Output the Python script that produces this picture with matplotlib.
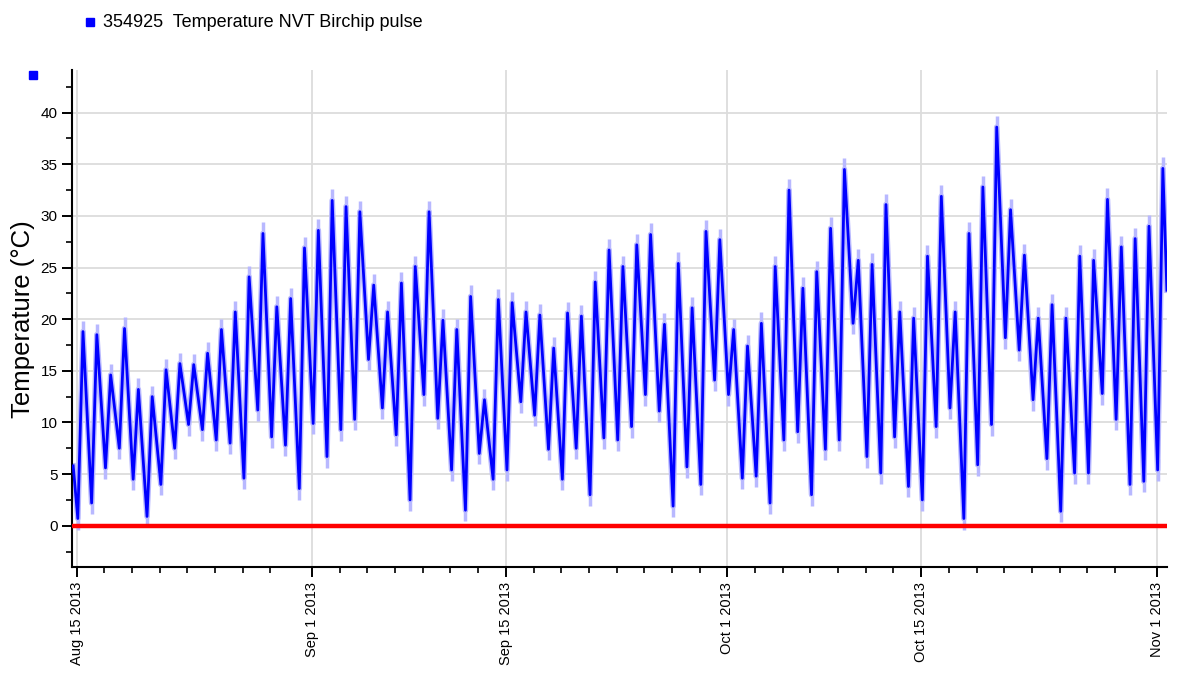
import numpy as np
import matplotlib.pyplot as plt
import matplotlib.dates as mdates
from matplotlib.ticker import MultipleLocator
from matplotlib.lines import Line2D

plt.rcParams['font.family'] = ['Liberation Sans', 'DejaVu Sans']

series_label = "354925  Temperature NVT Birchip pulse"
first_day = np.datetime64('2013-08-15')

# early-morning lows, one per day, Aug 15 .. Nov 1 2013
daily_min = [0.7, 2.2, 5.6, 7.5, 4.5, 0.9, 4.0, 7.5, 9.8, 9.3, 8.3, 8.0, 4.6,
             11.2, 8.6, 7.8, 3.6, 9.9, 6.7, 9.3, 10.3, 16.1, 11.4, 8.8, 2.5, 12.7,
             10.4, 5.4, 1.5, 7.0, 4.5, 5.4, 12.0, 10.7, 7.4, 4.5, 7.5, 3.0, 8.5,
             8.3, 9.6, 12.7, 11.1, 1.9, 5.7, 4.0, 14.1, 12.7, 4.6, 4.8, 2.2, 8.3,
             9.1, 3.0, 7.4, 8.3, 19.6, 6.7, 5.1, 8.6, 3.8, 2.5, 9.6, 11.4, 0.7,
             5.9, 9.8, 18.2, 17.0, 12.2, 6.5, 1.4, 5.1, 5.1, 12.8, 10.3, 4.0, 4.3, 5.4]
# daily highs
daily_max = [18.8, 18.5, 14.6, 19.1, 13.2, 12.5, 15.1, 15.7, 15.6, 16.7, 19.0, 20.7, 24.1,
             28.3, 21.2, 22.0, 26.9, 28.6, 31.5, 30.9, 30.4, 23.3, 20.7, 23.5, 25.1, 30.4,
             19.9, 19.0, 22.2, 12.2, 21.9, 21.6, 20.7, 20.4, 17.2, 20.6, 20.3, 23.6, 26.7,
             25.1, 27.2, 28.2, 19.5, 25.4, 21.1, 28.5, 27.7, 19.0, 17.4, 19.6, 25.1, 32.5,
             23.0, 24.6, 28.8, 34.5, 25.7, 25.3, 31.1, 20.7, 20.1, 26.1, 31.9, 20.7, 28.3,
             32.8, 38.6, 30.6, 26.2, 20.1, 21.4, 20.1, 26.1, 25.7, 31.6, 27.0, 27.8, 29.0, 34.6]
start_time, start_temp = np.datetime64('2013-08-14T18:00'), 5.8
end_time, end_temp = np.datetime64('2013-11-01T18:00'), 22.8

days = first_day + np.arange(len(daily_min)).astype('timedelta64[D]')
t_low = days + np.timedelta64(2, 'h')
t_high = days + np.timedelta64(11, 'h')

times = [start_time]
temps = [start_temp]
for tl, lo, th, hi in zip(t_low, daily_min, t_high, daily_max):
    times += [tl, th]
    temps += [lo, hi]
times.append(end_time)
temps.append(end_temp)
times = np.array(times, dtype='datetime64[m]')

fig = plt.figure(figsize=(11.77, 6.89), dpi=100)
ax = fig.add_axes([0.0612, 0.177, 0.9307, 0.721])

pale = '#b8b8ff'
ax.plot(times, temps, color=pale, lw=4, zorder=2)
ax.plot(times[1:-1], temps[1:-1], ls='', marker='|', ms=16, mew=2.5, color=pale, zorder=2)
ax.plot(times, temps, color='#0000ff', lw=2, zorder=3)
ax.axhline(0, color='#ff0000', lw=3.2, zorder=4)

ax.set_xlim(np.datetime64('2013-08-14T16:00'), np.datetime64('2013-11-01T19:00'))
ax.set_ylim(-4, 44.1)

ax.xaxis.set_major_locator(mdates.DayLocator(bymonthday=[1, 15]))
ax.xaxis.set_minor_locator(mdates.DayLocator(bymonthday=range(1, 30, 2)))
ax.xaxis.set_major_formatter(mdates.DateFormatter('%b %-d %Y'))
ax.yaxis.set_major_locator(MultipleLocator(5))
ax.yaxis.set_minor_locator(MultipleLocator(2.5))

ax.grid(True, which='major', color='#dcdcdc', lw=1.3)
ax.set_axisbelow(True)
for s in ['top', 'right']:
    ax.spines[s].set_visible(False)
for s in ['left', 'bottom']:
    ax.spines[s].set_linewidth(1.5)

ax.tick_params(which='major', length=7, width=1.4, labelsize=11)
ax.tick_params(which='minor', length=4, width=1.2)
ax.tick_params(axis='x', labelrotation=90, labelsize=10.5)
ax.set_ylabel('Temperature (°C)', fontsize=18.5, labelpad=4)

# legend line at the top
fig.add_artist(Line2D([0.0765], [0.968], marker='s', ls='', color='#0000ff', ms=5.5))
fig.text(0.0875, 0.968, series_label, fontsize=13, va='center', ha='left')
fig.add_artist(Line2D([0.028], [0.891], marker='s', ls='', color='#0000ff', ms=5.5))

fig.savefig('out.png', dpi=100)
